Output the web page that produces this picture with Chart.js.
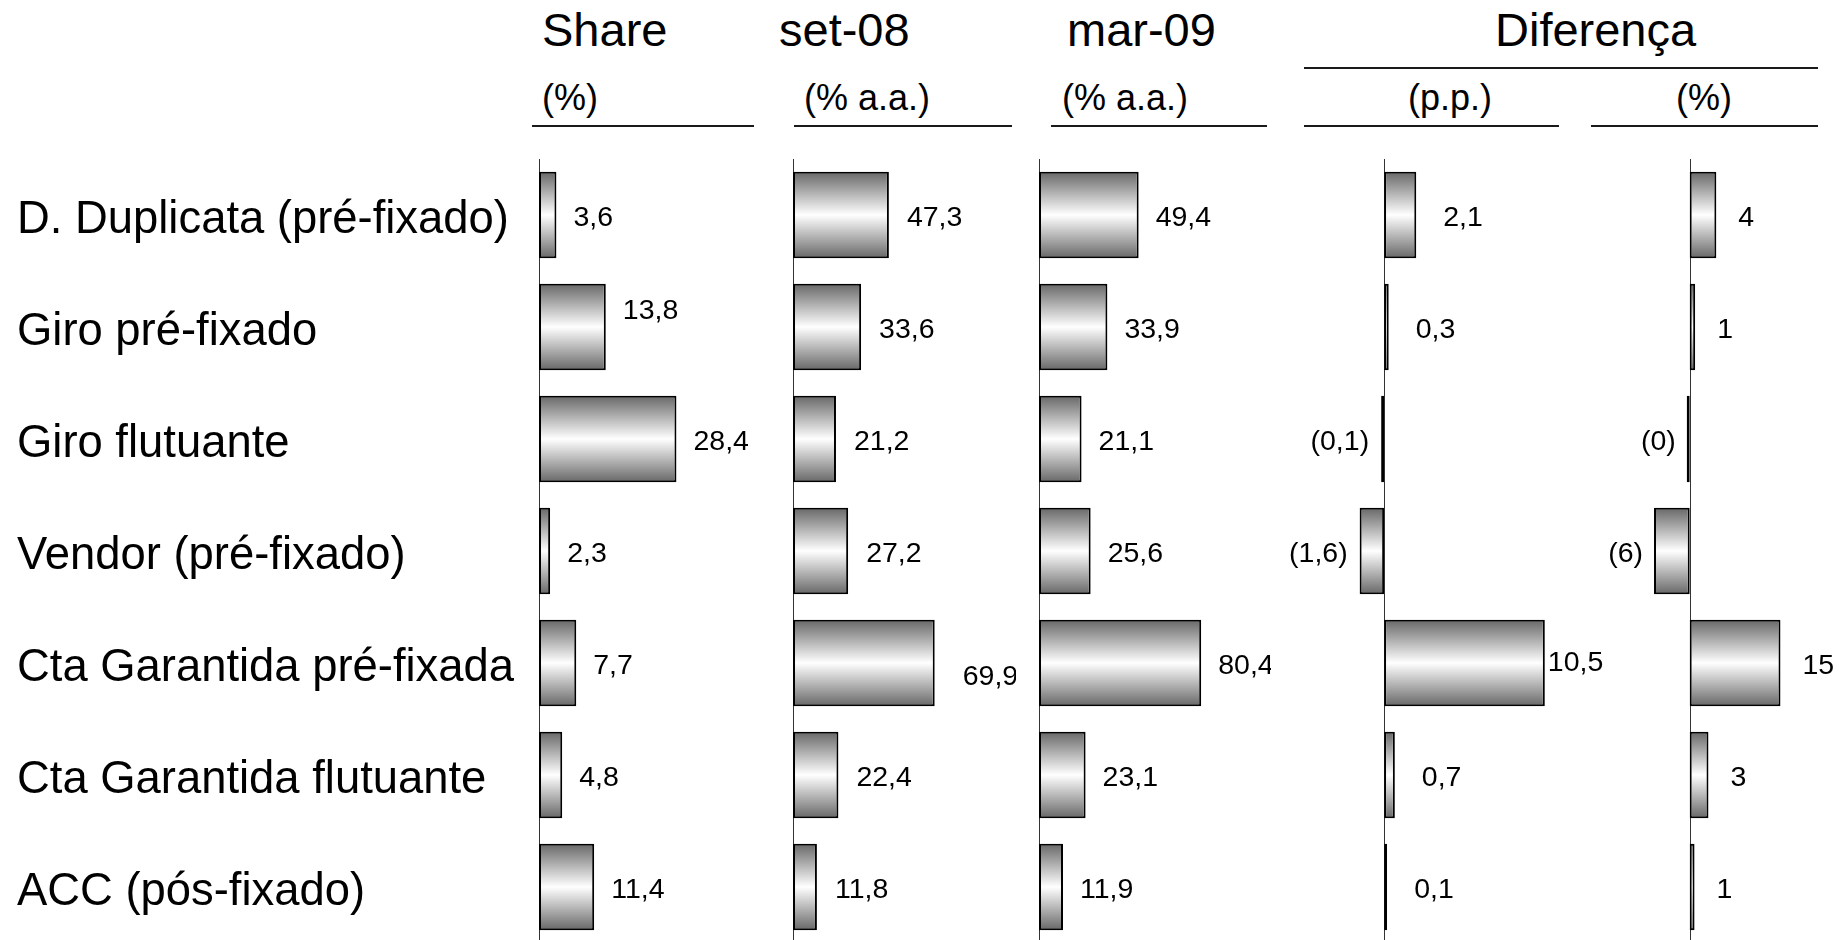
<!DOCTYPE html>
<html lang="pt-BR">
<head>
<meta charset="utf-8">
<title>Taxas de crédito por modalidade</title>
<script src="https://cdn.jsdelivr.net/npm/chart.js@4.4.1/dist/chart.umd.min.js"></script>
<style>
  html, body { margin: 0; padding: 0; background: #fff; }
  body {
    width: 1845px; height: 940px; overflow: hidden; position: relative;
    font-family: "Liberation Sans", Arial, Helvetica, sans-serif; color: #000;
  }
  canvas { position: absolute; top: 0; }
  .h1 { position: absolute; top: 7px; font-size: 47px; line-height: 46px; white-space: nowrap; }
  .h2 { position: absolute; top: 80px; font-size: 36px; line-height: 36px; white-space: nowrap; }
  .rule { position: absolute; height: 2px; background: #1a1a1a; }
</style>
</head>
<body>
  <!-- column headers -->
  <div class="h1" style="left:542px">Share</div>
  <div class="h1" style="left:779px">set-08</div>
  <div class="h1" style="left:1067px">mar-09</div>
  <div class="h1" style="left:1495px">Diferença</div>
  <div class="rule" style="left:1304px; width:514px; top:67px"></div>

  <div class="h2" style="left:542px">(%)</div>
  <div class="h2" style="left:804px">(% a.a.)</div>
  <div class="h2" style="left:1062px">(% a.a.)</div>
  <div class="h2" style="left:1408px">(p.p.)</div>
  <div class="h2" style="left:1676px">(%)</div>

  <div class="rule" style="left:532px; width:222px; top:125px"></div>
  <div class="rule" style="left:794px; width:218px; top:125px"></div>
  <div class="rule" style="left:1051px; width:216px; top:125px"></div>
  <div class="rule" style="left:1304px; width:255px; top:125px"></div>
  <div class="rule" style="left:1591px; width:227px; top:125px"></div>

<script>
// Modalidades de crédito
const categories = [
  'D. Duplicata (pré-fixado)',
  'Giro pré-fixado',
  'Giro flutuante',
  'Vendor (pré-fixado)',
  'Cta Garantida pré-fixada',
  'Cta Garantida flutuante',
  'ACC (pós-fixado)'
];

// Participação na carteira (%)
const share = [3.6, 13.8, 28.4, 2.3, 7.7, 4.8, 11.4];
// Taxas (% a.a.)
const taxaSet08 = [47.3, 33.6, 21.2, 27.2, 69.9, 22.4, 11.8];
const taxaMar09 = [49.4, 33.9, 21.1, 25.6, 80.4, 23.1, 11.9];
// Diferença mar-09 vs set-08
const difPP = [2.1, 0.3, -0.1, -1.6, 10.5, 0.7, 0.1];
const difPct = [4.4, 0.9, -0.4, -5.9, 15.0, 3.1, 0.8];

const FONT = '"Liberation Sans", Arial, Helvetica, sans-serif';
const CHART_TOP = 159;
const CANVAS_H = 943;
const BAR_PCT = 0.773;

// pt-BR number formats, negatives in parentheses
const fmtDec = v => {
  const s = Math.abs(v).toFixed(1).replace('.', ',');
  return v < 0 ? '(' + s + ')' : s;
};
const fmtInt = v => {
  const s = Math.abs(v).toFixed(0);
  return v < 0 ? '(' + s + ')' : s;
};

// one small bar chart per column
const panels = [
  { values: share,     fmt: fmtDec, left: 0,    width: 781, min: 0,   max: 50,  padLeft: 17, axisWidth: 522,
    gap: 17, gapNeg: 8,  nudge: { 1: [0, -19] } },
  { values: taxaSet08, fmt: fmtDec, left: 793,  width: 223, min: 0,   max: 110, gap: 18, gapNeg: 8,
    nudge: { 4: [10, 11] } },
  { values: taxaMar09, fmt: fmtDec, left: 1039, width: 232, min: 0,   max: 115, gap: 17, gapNeg: 8,
    nudge: {} },
  { values: difPP,     fmt: fmtDec, left: 1277, width: 352, min: -7,  max: 16,  gap: 27, gapNeg: 12,
    nudge: { 4: [-24, -3] } },
  { values: difPct,    fmt: fmtInt, left: 1605, width: 236, min: -14, max: 25,  gap: 22, gapNeg: 11,
    nudge: {} }
];

// metallic fill: dark edges, white centre line
function barFill(ctx) {
  const chart = ctx.chart;
  if (!chart.chartArea || ctx.type !== 'data') return '#cfcfcf';
  const ys = chart.scales.y;
  const yc = ys.getPixelForValue(ctx.dataIndex);
  const half = (ys.height / categories.length) * BAR_PCT / 2;
  const g = chart.ctx.createLinearGradient(0, yc - half, 0, yc + half);
  g.addColorStop(0, '#676767');
  g.addColorStop(0.5, '#ffffff');
  g.addColorStop(1, '#676767');
  return g;
}

// vertical category axis line at zero
const zeroLine = {
  id: 'zeroLine',
  beforeDatasetsDraw(chart) {
    const { ctx, chartArea } = chart;
    const x = Math.round(chart.scales.x.getPixelForValue(0)) + 0.5;
    ctx.save();
    ctx.strokeStyle = '#333';
    ctx.lineWidth = 1;
    ctx.beginPath();
    ctx.moveTo(x, chartArea.top);
    ctx.lineTo(x, chartArea.bottom);
    ctx.stroke();
    ctx.restore();
  }
};

function valueLabels(p) {
  return {
    id: 'valueLabels',
    afterDatasetsDraw(chart) {
      const { ctx } = chart;
      const bars = chart.getDatasetMeta(0).data;
      ctx.save();
      ctx.font = '28.5px ' + FONT;
      ctx.fillStyle = '#000';
      ctx.textBaseline = 'middle';
      p.values.forEach((v, i) => {
        const bar = bars[i];
        const [dx, dy] = p.nudge[i] || [0, 0];
        const y = bar.y + 3 + dy;
        if (v >= 0) {
          ctx.textAlign = 'left';
          ctx.fillText(p.fmt(v), Math.max(bar.x, bar.base) + p.gap + dx, y);
        } else {
          ctx.textAlign = 'right';
          ctx.fillText(p.fmt(v), Math.min(bar.x, bar.base) - p.gapNeg + dx, y);
        }
      });
      ctx.restore();
    }
  };
}

panels.forEach((p, idx) => {
  const isFirst = idx === 0;
  const canvas = document.createElement('canvas');
  canvas.width = p.width;
  canvas.height = CANVAS_H;
  canvas.style.left = p.left + 'px';
  canvas.style.width = p.width + 'px';
  canvas.style.height = CANVAS_H + 'px';
  document.body.appendChild(canvas);

  const chartWidth = isFirst ? p.width - p.padLeft - p.axisWidth : p.width;
  const xMax = isFirst ? p.max : p.min + (p.max - p.min) * (chartWidth / p.width);

  new Chart(canvas, {
    type: 'bar',
    data: {
      labels: categories,
      datasets: [{
        data: p.values,
        backgroundColor: barFill,
        borderColor: '#000',
        borderWidth: 2,
        borderSkipped: false,
        categoryPercentage: 1,
        barPercentage: BAR_PCT,
        minBarLength: 3
      }]
    },
    options: {
      indexAxis: 'y',
      responsive: false,
      animation: false,
      devicePixelRatio: 1,
      layout: { padding: { top: CHART_TOP, bottom: 0, left: isFirst ? p.padLeft : 0, right: 0 } },
      plugins: {
        legend: { display: false },
        tooltip: { enabled: false },
        title: { display: false }
      },
      scales: {
        x: { type: 'linear', min: p.min, max: xMax, display: false },
        y: {
          type: 'category',
          display: isFirst,
          grid: { display: false },
          border: { display: false },
          ticks: {
            crossAlign: 'far',
            autoSkip: false,
            padding: 0,
            labelOffset: 5,
            color: '#000',
            font: { family: FONT, size: 45.4 }
          },
          afterFit: isFirst ? (scale => {
            scale.width = p.axisWidth;
            scale.paddingTop = 0;
            scale.paddingBottom = 0;
          }) : undefined
        }
      }
    },
    plugins: [zeroLine, valueLabels(p)]
  });
});
</script>
</body>
</html>
